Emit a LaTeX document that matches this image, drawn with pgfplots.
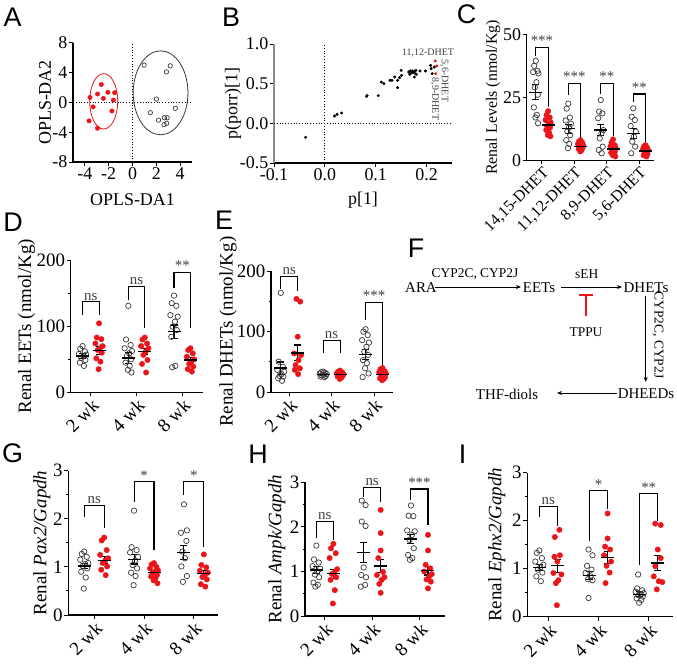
\documentclass[border=0pt]{standalone}
\usepackage{fontspec}
\setmainfont{Liberation Serif}
\newfontfamily\sansf{Liberation Sans}
\usepackage{pgfplots}
\pgfplotsset{compat=1.18}
\usetikzlibrary{arrows.meta}
\newcommand{\fs}[1]{\fontsize{#1}{#1}\selectfont}
\definecolor{myred}{RGB}{235,20,25}
\definecolor{ctlc}{RGB}{55,55,55}
\pgfplotsset{
 base/.style={scale only axis, axis lines=left, axis line style={line width=1.2pt,-}, tick style={line width=1pt,black}, tick align=outside, major tick length=4bp, minor tick length=2.5bp, tick label style={font=\fs{18}, inner sep=1.5bp}, label style={font=\fs{18}}, /pgf/number format/assume math mode=true, clip=false, anchor=south west},
 yl/.style={ylabel style={at={(axis description cs:0,0.5)}, anchor=center, yshift=#1}},
 xl/.style={xlabel style={at={(axis description cs:0.5,0)}, anchor=center, yshift=-#1}},
 col/.style={base, xtick={1,2,3}, xticklabels={2 wk,4 wk,8 wk}, xticklabel style={rotate=45, anchor=north east, font=\fs{19}, inner sep=1bp}, yticklabel style={font=\fs{19}}, ylabel style={font=\fs{19}}, ymin=0, minor y tick num=1},
 ctl/.style={only marks, mark=o, mark size=2.7bp, mark options={line width=0.7pt, draw=ctlc}},
 trt/.style={only marks, mark=*, mark size=2.7bp, mark options={draw=myred, fill=myred}},
 msem/.style={black, only marks, mark=-, mark size=6.5bp, mark options={line width=1.3pt}, error bars/.cd, y dir=both, y explicit, error bar style={line width=1.1pt, black}, error mark options={rotate=90, mark size=3.5bp, line width=1.1pt, black}},
 brk/.style={black, line width=1.1pt, mark=none},
}
\tikzset{sig/.style={font=\fs{15}, text=black!75, anchor=south, inner sep=1.5bp}}
\begin{document}
\begin{tikzpicture}
\path[use as bounding box] (0,0) rectangle (677bp,-667bp);

% ---------------- A
\begin{axis}[base, at={(73bp,-162bp)}, width=119bp, height=119bp, xmin=-5, xmax=5, ymin=-8, ymax=8, xtick={-4,-2,...,4}, ytick={-8,-4,...,8}, xlabel={OPLS-DA1}, ylabel={OPLS-DA2}, yl=28bp, xl=38bp]
\draw[dotted, line width=0.8pt] (axis cs:0,-8) -- (axis cs:0,8);
\draw[dotted, line width=0.8pt] (axis cs:-5,0) -- (axis cs:5,0);
\draw[myred, line width=0.8pt] (axis cs:-2.42,0.16) ellipse [x radius=1.18, y radius=3.72];
\draw[ctlc, line width=0.8pt] (axis cs:2.36,1.3) ellipse [x radius=2.3, y radius=5.64];
\addplot[trt, mark size=2.2bp] coordinates {(-3.57,0.68)(-2.94,1.14)(-2.62,2.42)(-2.45,0.55)(-2.07,1.37)(-1.61,0.32)(-1.50,1.32)(-3.31,-0.59)(-1.73,-1.14)(-3.65,-2.47)(-2.94,-3.47)};
\addplot[ctl, mark size=2.2bp] coordinates {(0.98,5.02)(3.17,4.93)(2.85,4.11)(2.01,0.46)(1.50,-1.37)(3.60,-0.78)(2.19,-2.37)(2.68,-2.05)(2.91,-2.05)(2.65,-2.97)(2.88,-2.79)};
\end{axis}

% ---------------- B
\begin{axis}[base, at={(274bp,-163bp)}, width=178bp, height=119bp, xmin=-0.1, xmax=0.25, ymin=-0.5, ymax=1.0, xtick={-0.1,0,0.1,0.2}, ytick={-0.5,0,0.5,1.0}, xticklabel style={/pgf/number format/.cd, fixed, fixed zerofill, precision=1}, yticklabel style={/pgf/number format/.cd, fixed, fixed zerofill, precision=1}, y axis line style={black!45}, xlabel={p[1]}, ylabel={p(porr)[1]}, yl=41bp, xl=37bp]
\draw[dotted, line width=0.8pt] (axis cs:0,-0.5) -- (axis cs:0,1.0);
\draw[dotted, line width=0.8pt] (axis cs:-0.1,0) -- (axis cs:0.25,0);
\addplot[only marks, mark=*, mark size=1.3bp, black] coordinates {(-0.038,-0.176)(0.019,0.092)(0.024,0.113)(0.033,0.130)(0.082,0.34)(0.083,0.35)(0.105,0.349)(0.111,0.52)(0.116,0.50)(0.128,0.542)(0.132,0.542)(0.1375,0.584)(0.143,0.542)(0.143,0.45)(0.147,0.576)(0.151,0.605)(0.150,0.668)(0.165,0.647)(0.168,0.66)(0.170,0.634)(0.172,0.66)(0.174,0.643)(0.176,0.655)(0.178,0.626)(0.179,0.668)(0.176,0.584)(0.180,0.618)(0.167,0.618)(0.187,0.66)(0.198,0.66)(0.208,0.731)(0.209,0.689)(0.211,0.626)(0.215,0.71)};
\addplot[only marks, mark=*, mark size=1.3bp, myred] coordinates {(0.217,0.786)(0.220,0.723)(0.218,0.626)};
\end{axis}
\node[font=\fs{10}, text=black!75] at (428bp,-53bp) {11,12-DHET};
\node[font=\fs{10}, text=black!75, rotate=-90] at (444.5bp,-81bp) {5,6-DHET};
\node[font=\fs{10}, text=black!75, rotate=-90] at (435bp,-99bp) {8,9-DHET};

% ---------------- C
\begin{axis}[base, at={(526.7bp,-160.3bp)}, width=127.3bp, height=126bp, xmin=0.53, xmax=4.45, ymin=0, ymax=50, ytick={0,25,50}, xtick={1,2,3,4}, xticklabels={{14,15-DHET},{11,12-DHET},{8,9-DHET},{5,6-DHET}}, xticklabel style={rotate=45, anchor=north east, font=\fs{16}, inner sep=1bp}, ylabel={Renal Levels (nmol/Kg)}, ylabel style={font=\fs{16}}, yl=33.7bp]
\addplot[ctl] coordinates {(0.81,39.5)(0.76,37.5)(0.86,35.5)(0.73,35)(0.89,34.5)(0.83,31)(0.78,29)(0.87,26)(0.75,21)(0.84,18)(0.80,17)(0.88,14.7)};
\addplot[trt] coordinates {(1.19,19.5)(1.14,18)(1.24,17)(1.11,16)(1.27,15)(1.21,14.5)(1.16,13.5)(1.25,13)(1.13,12)(1.22,11)(1.18,10)(1.26,9.5)};
\addplot[ctl] coordinates {(1.81,22.5)(1.76,20.5)(1.86,17)(1.73,15.8)(1.89,14.5)(1.83,13)(1.78,11.5)(1.87,10)(1.75,8)(1.84,6.5)(1.80,4.8)};
\addplot[trt] coordinates {(2.19,8)(2.14,7.5)(2.24,7)(2.11,6.5)(2.27,6)(2.21,5.5)(2.16,5)(2.25,5)(2.13,4.5)(2.22,4)(2.18,3.5)};
\addplot[ctl] coordinates {(2.81,23.9)(2.76,19.3)(2.86,18.6)(2.73,16.7)(2.89,12)(2.83,10.7)(2.78,8.7)(2.87,5.4)(2.75,4.1)(2.84,2.8)};
\addplot[trt] coordinates {(3.19,8.3)(3.14,7)(3.24,6)(3.11,5.5)(3.27,5)(3.21,4.5)(3.16,4)(3.25,3.5)(3.13,3)(3.22,2.5)(3.18,2)(3.26,1.5)};
\addplot[ctl] coordinates {(3.81,20.6)(3.76,17.3)(3.86,16)(3.73,13.6)(3.89,11.4)(3.83,9.4)(3.78,7.4)(3.87,5.4)(3.75,2.8)};
\addplot[trt] coordinates {(4.19,6)(4.14,5.5)(4.24,5)(4.11,4.5)(4.27,4)(4.21,3.5)(4.16,3)(4.25,2.5)(4.13,2)(4.22,1.5)};
\addplot[msem] coordinates {(0.81,27) +- (0,3) (1.81,12.5) +- (0,1.8) (2.81,12) +- (0,2.2) (3.81,10.5) +- (0,2)};
\addplot[msem] coordinates {(1.19,14) +- (0,1) (2.19,5.5) +- (0,0.5) (3.19,4.5) +- (0,0.6) (4.19,3.7) +- (0,0.5)};
\addplot[brk] coordinates {(0.81,41.5)(0.81,44.7)(1.19,44.7)(1.19,21)};
\addplot[brk] coordinates {(1.81,26)(1.81,30.5)(2.19,30.5)(2.19,9)};
\addplot[brk] coordinates {(2.81,26.5)(2.81,30.5)(3.19,30.5)(3.19,9.5)};
\addplot[brk] coordinates {(3.81,23.3)(3.81,26.3)(4.19,26.3)(4.19,7)};
\node[sig] at (axis cs:1,44.7) {***};
\node[sig] at (axis cs:2,30.5) {***};
\node[sig] at (axis cs:3,30.5) {**};
\node[sig] at (axis cs:4,26.3) {**};
\end{axis}

% ---------------- D
\begin{axis}[col, at={(70.7bp,-392.3bp)}, width=132.6bp, height=132bp, xmin=0.56, xmax=3.46, ymax=200, ytick={0,100,200}, ylabel={Renal EETs (nmol/Kg)}, yl=44bp]
\addplot[ctl] coordinates {(0.82,70)(0.77,66)(0.87,62)(0.74,58)(0.90,57)(0.84,55)(0.79,52)(0.88,49)(0.76,45)(0.85,40)};
\addplot[trt] coordinates {(1.18,104.5)(1.13,83)(1.23,80.6)(1.10,74)(1.26,70)(1.20,66.7)(1.15,64)(1.24,60)(1.12,51.5)(1.21,46.5)(1.17,35)};
\addplot[ctl] coordinates {(1.82,131)(1.77,80)(1.87,71.7)(1.74,66.7)(1.90,62.6)(1.84,59)(1.79,55)(1.88,50)(1.76,45)(1.85,40)(1.81,34)(1.89,30)};
\addplot[trt] coordinates {(2.18,83)(2.13,80)(2.23,74)(2.10,70)(2.26,66.7)(2.20,61.6)(2.15,56.6)(2.24,49)(2.12,43)(2.21,30)};
\addplot[ctl] coordinates {(2.82,146.5)(2.77,135)(2.87,131)(2.74,117)(2.90,114.6)(2.84,107)(2.79,99.5)(2.88,94.4)(2.76,84)(2.85,40)(2.78,38)};
\addplot[trt] coordinates {(3.18,66.7)(3.13,64)(3.23,59)(3.10,54)(3.26,50)(3.20,46.5)(3.15,43)(3.24,39)(3.12,35)(3.21,31.3)};
\addplot[msem] coordinates {(0.82,55) +- (0,4) (1.82,52) +- (0,8) (2.82,92) +- (0,10)};
\addplot[msem] coordinates {(1.18,63) +- (0,6) (2.18,62) +- (0,5) (3.18,49) +- (0,3.5)};
\addplot[brk] coordinates {(0.82,117)(0.82,137)(1.18,137)(1.18,117)};
\addplot[brk] coordinates {(1.82,140)(1.82,160)(2.18,160)(2.18,97)};
\addplot[brk] coordinates {(2.82,157.6)(2.82,182)(3.18,182)(3.18,97)};
\node[sig] at (axis cs:1,137) {ns};
\node[sig] at (axis cs:2,160) {ns};
\node[sig] at (axis cs:3,182) {**};
\end{axis}

% ---------------- E
\begin{axis}[col, at={(271bp,-392.3bp)}, width=121.7bp, height=121.3bp, xmin=0.57, xmax=3.44, ymax=200, ytick={0,100,200}, ylabel={Renal DHETs (nmol/Kg)}, yl=43bp]
\addplot[ctl] coordinates {(0.8,164)(0.75,50.5)(0.85,42)(0.72,37)(0.88,34)(0.82,30)(0.77,27)(0.86,26)(0.74,23)(0.83,19)};
\addplot[trt] coordinates {(1.17,154)(1.26,149.5)(1.2,91.7)(1.12,64)(1.28,61.5)(1.22,53)(1.15,45)(1.25,39.6)(1.13,37)(1.21,30)};
\addplot[ctl] coordinates {(1.8,34)(1.75,33)(1.85,32)(1.72,31)(1.88,30)(1.82,29)(1.77,28)(1.86,27)(1.74,26)(1.83,25)};
\addplot[trt] coordinates {(2.2,36)(2.15,34)(2.25,33)(2.12,31)(2.28,30)(2.22,29)(2.17,28)(2.26,27)(2.14,26)(2.23,24)(2.19,22)};
\addplot[ctl] coordinates {(2.8,104)(2.75,100)(2.85,94.5)(2.72,86)(2.88,82)(2.82,75)(2.77,67)(2.86,61.5)(2.74,53)(2.83,48)(2.79,39.6)(2.87,31)(2.73,25)};
\addplot[trt] coordinates {(3.2,40)(3.15,38)(3.25,35)(3.12,33)(3.28,31)(3.22,29)(3.17,27)(3.26,25)(3.14,23)(3.23,22)(3.19,20)};
\addplot[msem] coordinates {(0.8,40) +- (0,10) (1.8,29) +- (0,1) (2.8,62) +- (0,8)};
\addplot[msem] coordinates {(1.2,65) +- (0,13) (2.2,29) +- (0,1.5) (3.2,29) +- (0,2)};
\addplot[brk] coordinates {(0.8,171)(0.8,190.7)(1.2,190.7)(1.2,167)};
\addplot[brk] coordinates {(1.8,65)(1.8,86)(2.2,86)(2.2,65)};
\addplot[brk] coordinates {(2.8,119)(2.8,148)(3.2,148)(3.2,42)};
\node[sig] at (axis cs:1,190.7) {ns};
\node[sig] at (axis cs:2,86) {ns};
\node[sig] at (axis cs:3,148) {***};
\end{axis}

% ---------------- F
\begin{scope}[font=\fs{15}]
\node at (421bp,-288bp) {ARA};
\draw[-{Stealth[length=5bp,width=4bp]}, line width=0.9pt] (435bp,-287bp) -- (521bp,-287bp);
\node[font=\fs{13.5}] at (475bp,-274bp) {CYP2C, CYP2J};
\node at (539bp,-288bp) {EETs};
\draw[-{Stealth[length=5bp,width=4bp]}, line width=0.9pt] (561bp,-287bp) -- (622bp,-287bp);
\node[font=\fs{13.5}] at (586.7bp,-274bp) {sEH};
\draw[myred, line width=1.5pt] (579bp,-295bp) -- (593bp,-295bp) (586bp,-295bp) -- (586bp,-316bp);
\node[font=\fs{13.5}] at (586bp,-332bp) {TPPU};
\node at (646bp,-288bp) {DHETs};
\draw[-{Stealth[length=5bp,width=4bp]}, line width=0.9pt] (645.7bp,-296bp) -- (645.7bp,-382bp);
\node[font=\fs{13.5}, rotate=-90] at (658bp,-335bp) {CYP2C, CYP2J};
\node at (646bp,-394bp) {DHEEDs};
\draw[-{Stealth[length=5bp,width=4bp]}, line width=0.9pt] (617bp,-393bp) -- (557bp,-393bp);
\node at (507bp,-394bp) {THF-diols};
\end{scope}

% ---------------- G
\begin{axis}[col, at={(68.3bp,-615bp)}, width=150bp, height=144.3bp, xmin=0.48, xmax=3.49, ymax=3, ytick={0,1,2,3}, ylabel={Renal \textit{Pax2/Gapdh}}, yl=26.6bp]
\addplot[ctl] coordinates {(0.8,1.32)(0.75,1.27)(0.85,1.21)(0.72,1.15)(0.88,1.08)(0.82,1.06)(0.77,1.02)(0.86,0.97)(0.74,0.9)(0.83,0.78)(0.79,0.55)};
\addplot[trt] coordinates {(1.2,1.61)(1.15,1.55)(1.25,1.35)(1.12,1.25)(1.28,1.18)(1.22,1.13)(1.17,1.08)(1.26,1.01)(1.14,0.94)(1.23,0.83)};
\addplot[ctl] coordinates {(1.8,2.17)(1.75,1.41)(1.85,1.35)(1.72,1.30)(1.88,1.21)(1.82,1.13)(1.77,1.04)(1.86,0.97)(1.74,0.88)(1.83,0.81)(1.79,0.62)};
\addplot[trt] coordinates {(2.2,1.08)(2.15,1.05)(2.25,1.0)(2.12,0.97)(2.28,0.93)(2.22,0.9)(2.17,0.87)(2.26,0.83)(2.14,0.8)(2.23,0.76)(2.19,0.72)(2.27,0.66)};
\addplot[ctl] coordinates {(2.8,2.3)(2.86,1.76)(2.74,1.71)(2.85,1.54)(2.77,1.32)(2.82,1.18)(2.75,1.01)(2.86,0.81)(2.78,0.69)};
\addplot[trt] coordinates {(3.2,1.26)(3.15,1.04)(3.25,0.99)(3.12,0.92)(3.28,0.88)(3.22,0.83)(3.17,0.79)(3.26,0.74)(3.14,0.64)(3.23,0.59)};
\addplot[msem] coordinates {(0.8,1.02) +- (0,0.06) (1.8,1.16) +- (0,0.1) (2.8,1.3) +- (0,0.14)};
\addplot[msem] coordinates {(1.2,1.14) +- (0,0.07) (2.2,0.88) +- (0,0.04) (3.2,0.87) +- (0,0.06)};
\addplot[brk] coordinates {(0.8,2.03)(0.8,2.28)(1.2,2.28)(1.2,1.81)};
\addplot[brk] coordinates {(1.8,2.35)(1.8,2.77)(2.2,2.77)(2.2,1.35)};
\addplot[brk] coordinates {(2.8,2.5)(2.8,2.77)(3.2,2.77)(3.2,1.42)};
\node[sig] at (axis cs:1,2.28) {ns};
\node[sig] at (axis cs:2,2.77) {*};
\node[sig] at (axis cs:3,2.77) {*};
\end{axis}

% ---------------- H
\begin{axis}[col, at={(305bp,-616bp)}, width=140bp, height=133.7bp, xmin=0.58, xmax=3.54, ymax=3, ytick={0,1,2,3}, ylabel={Renal \textit{Ampk/Gapdh}}, yl=28.3bp]
\addplot[ctl] coordinates {(0.82,1.58)(0.77,1.27)(0.87,1.2)(0.74,1.12)(0.90,1.06)(0.84,1.0)(0.79,0.93)(0.88,0.87)(0.76,0.75)(0.85,0.7)(0.80,0.66)};
\addplot[trt] coordinates {(1.18,1.62)(1.13,1.52)(1.23,1.41)(1.10,1.3)(1.26,1.05)(1.20,0.97)(1.15,0.94)(1.24,0.87)(1.12,0.81)(1.21,0.58)(1.17,0.28)};
\addplot[ctl] coordinates {(1.78,2.59)(1.86,2.49)(1.78,2.12)(1.86,2.02)(1.82,1.09)(1.77,0.92)(1.87,0.87)(1.85,0.7)(1.76,0.66)};
\addplot[trt] coordinates {(2.18,2.38)(2.18,1.86)(2.18,1.47)(2.13,1.3)(2.23,0.99)(2.10,0.92)(2.26,0.87)(2.20,0.81)(2.15,0.72)(2.18,0.52)};
\addplot[ctl] coordinates {(2.82,2.48)(2.77,2.25)(2.87,2.24)(2.74,1.92)(2.90,1.9)(2.84,1.82)(2.79,1.71)(2.88,1.52)(2.76,1.37)(2.85,1.3)(2.80,1.26)};
\addplot[trt] coordinates {(3.18,1.82)(3.18,1.47)(3.13,1.15)(3.23,1.07)(3.10,1.0)(3.26,0.94)(3.20,0.88)(3.15,0.82)(3.24,0.77)(3.18,0.62)};
\addplot[msem] coordinates {(0.82,1.03) +- (0,0.08) (1.82,1.42) +- (0,0.22) (2.82,1.73) +- (0,0.1)};
\addplot[msem] coordinates {(1.18,0.95) +- (0,0.1) (2.18,1.12) +- (0,0.15) (3.18,1.02) +- (0,0.1)};
\addplot[brk] coordinates {(0.82,1.75)(0.82,2.13)(1.18,2.13)(1.18,1.71)};
\addplot[brk] coordinates {(1.82,2.68)(1.82,2.89)(2.18,2.89)(2.18,2.55)};
\addplot[brk] coordinates {(2.82,2.61)(2.82,2.85)(3.18,2.85)(3.18,2.04)};
\node[sig] at (axis cs:1,2.13) {ns};
\node[sig] at (axis cs:2,2.89) {ns};
\node[sig] at (axis cs:3,2.85) {***};
\end{axis}

% ---------------- I
\begin{axis}[col, at={(527.3bp,-616.7bp)}, width=146bp, height=144bp, xmin=0.58, xmax=3.49, ymax=3, ytick={0,1,2,3}, ylabel={Renal \textit{Ephx2/Gapdh}}, yl=30.6bp]
\addplot[ctl] coordinates {(0.82,1.38)(0.77,1.33)(0.87,1.22)(0.74,1.15)(0.90,1.08)(0.84,1.03)(0.79,0.98)(0.88,0.92)(0.76,0.84)(0.85,0.74)};
\addplot[trt] coordinates {(1.22,1.81)(1.13,1.66)(1.23,1.28)(1.12,1.25)(1.18,1.15)(1.10,0.91)(1.26,0.88)(1.20,0.76)(1.15,0.7)(1.17,0.24)};
\addplot[ctl] coordinates {(1.80,1.4)(1.88,1.28)(1.77,1.06)(1.86,0.98)(1.74,0.91)(1.84,0.84)(1.79,0.78)(1.88,0.76)(1.80,0.39)};
\addplot[trt] coordinates {(2.18,2.15)(2.18,1.63)(2.13,1.46)(2.23,1.4)(2.11,1.28)(2.25,1.15)(2.16,1.06)(2.22,0.92)(2.14,0.7)};
\addplot[ctl] coordinates {(2.79,0.88)(2.77,0.59)(2.87,0.55)(2.74,0.52)(2.90,0.49)(2.84,0.47)(2.79,0.45)(2.88,0.42)(2.76,0.38)(2.85,0.35)(2.81,0.29)};
\addplot[trt] coordinates {(3.13,1.94)(3.24,1.91)(3.18,1.4)(3.24,1.22)(3.13,1.05)(3.10,0.84)(3.20,0.74)(3.27,0.72)(3.16,0.57)};
\addplot[msem] coordinates {(0.82,1.02) +- (0,0.06) (1.82,0.86) +- (0,0.08) (2.82,0.47) +- (0,0.05)};
\addplot[msem] coordinates {(1.18,1.06) +- (0,0.13) (2.18,1.23) +- (0,0.12) (3.18,1.12) +- (0,0.15)};
\addplot[brk] coordinates {(0.82,2.07)(0.82,2.29)(1.18,2.29)(1.18,1.88)};
\addplot[brk] coordinates {(1.82,1.58)(1.82,2.62)(2.18,2.62)(2.18,2.25)};
\addplot[brk] coordinates {(2.82,1.08)(2.82,2.56)(3.18,2.56)(3.18,2.0)};
\node[sig] at (axis cs:1,2.29) {ns};
\node[sig] at (axis cs:2,2.62) {*};
\node[sig] at (axis cs:3,2.56) {**};
\end{axis}

% ---------------- panel letters
\begin{scope}[font=\sansf\fs{27}]
\node at (12.5bp,-17bp) {A};
\node at (231bp,-17bp) {B};
\node at (466.5bp,-14.5bp) {C};
\node at (13bp,-222bp) {D};
\node at (224bp,-220bp) {E};
\node at (416bp,-248bp) {F};
\node at (12.5bp,-453bp) {G};
\node at (258bp,-454bp) {H};
\node at (462.5bp,-454bp) {I};
\end{scope}
\end{tikzpicture}
\end{document}
